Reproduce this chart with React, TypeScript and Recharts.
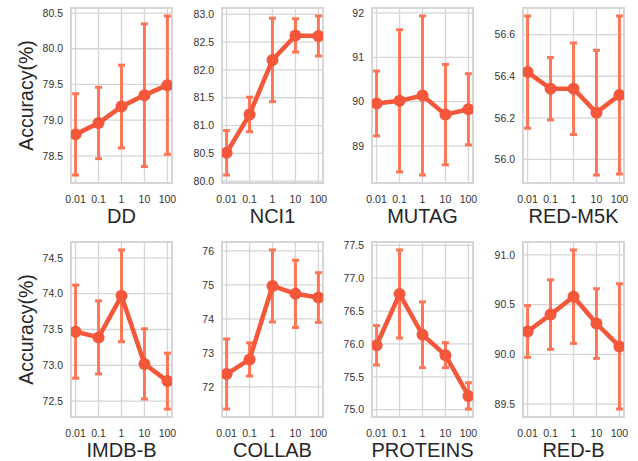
import React from 'react';
import { LineChart, Line, XAxis, YAxis, CartesianGrid, ErrorBar, ReferenceArea } from 'recharts';

const LAMBDAS = ['0.01', '0.1', '1', '10', '100'];

const DD_MEAN = [78.8, 78.96, 79.19, 79.35, 79.49];
const DD_ERR = [0.57, 0.5, 0.58, 1.0, 0.97];
const DD_TICKS = [78.5, 79.0, 79.5, 80.0, 80.5];

const NCI1_MEAN = [80.51, 81.2, 82.18, 82.62, 82.61];
const NCI1_ERR = [0.4, 0.31, 0.75, 0.3, 0.36];
const NCI1_TICKS = [80.0, 80.5, 81.0, 81.5, 82.0, 82.5, 83.0];

const MUTAG_MEAN = [89.96, 90.02, 90.14, 89.71, 89.83];
const MUTAG_ERR = [0.73, 1.6, 1.79, 1.13, 0.8];
const MUTAG_TICKS = [89, 90, 91, 92];

const REDM5K_MEAN = [56.42, 56.34, 56.34, 56.225, 56.31];
const REDM5K_ERR = [0.27, 0.15, 0.22, 0.3, 0.38];
const REDM5K_TICKS = [56.0, 56.2, 56.4, 56.6];

const IMDBB_MEAN = [73.47, 73.39, 73.97, 73.02, 72.78];
const IMDBB_ERR = [0.65, 0.51, 0.64, 0.49, 0.39];
const IMDBB_TICKS = [72.5, 73.0, 73.5, 74.0, 74.5];

const COLLAB_MEAN = [72.38, 72.81, 74.97, 74.74, 74.63];
const COLLAB_ERR = [1.03, 0.49, 1.06, 0.99, 0.73];
const COLLAB_TICKS = [72, 73, 74, 75, 76];

const PROTEINS_MEAN = [75.98, 76.76, 76.14, 75.83, 75.21];
const PROTEINS_ERR = [0.3, 0.67, 0.5, 0.19, 0.2];
const PROTEINS_TICKS = [75.0, 75.5, 76.0, 76.5, 77.0, 77.5];

const REDB_MEAN = [90.23, 90.4, 90.58, 90.31, 90.08];
const REDB_ERR = [0.26, 0.35, 0.47, 0.35, 0.63];
const REDB_TICKS = [89.5, 90.0, 90.5, 91.0];

const PANELS = [
  { name: 'DD', mean: DD_MEAN, err: DD_ERR, ticks: DD_TICKS, dec: 1 },
  { name: 'NCI1', mean: NCI1_MEAN, err: NCI1_ERR, ticks: NCI1_TICKS, dec: 1 },
  { name: 'MUTAG', mean: MUTAG_MEAN, err: MUTAG_ERR, ticks: MUTAG_TICKS, dec: 0 },
  { name: 'RED-M5K', mean: REDM5K_MEAN, err: REDM5K_ERR, ticks: REDM5K_TICKS, dec: 1 },
  { name: 'IMDB-B', mean: IMDBB_MEAN, err: IMDBB_ERR, ticks: IMDBB_TICKS, dec: 1 },
  { name: 'COLLAB', mean: COLLAB_MEAN, err: COLLAB_ERR, ticks: COLLAB_TICKS, dec: 0 },
  { name: 'PROTEINS', mean: PROTEINS_MEAN, err: PROTEINS_ERR, ticks: PROTEINS_TICKS, dec: 1 },
  { name: 'RED-B', mean: REDB_MEAN, err: REDB_ERR, ticks: REDB_TICKS, dec: 1 },
];

const FONT = '"Liberation Sans", Arial, sans-serif';
const PLOT_LEFTS = [71, 222, 372, 523];
const PLOT_TOPS = [8, 242];
const PLOT_W = 101;
const PLOT_H = 175;
const M_TOP = 5;
const M_RIGHT = 5;
const XH = 45;
const LINE_COLOR = '#f4573a';
const ERR_COLOR = '#ff7656';
const GRID = '#d6d6d6';

function XLabel(props: any) {
  const vb = props.viewBox || {};
  return (
    <text x={vb.x + vb.width / 2} y={vb.y + 40} textAnchor="middle" fontSize={20} fontFamily={FONT} fill="#262626">
      {props.text}
    </text>
  );
}

function YLabel(props: any) {
  const vb = props.viewBox || {};
  const cx = 32.5;
  const cy = vb.y + vb.height / 2;
  return (
    <text x={cx} y={cy} transform={`rotate(-90, ${cx}, ${cy})`} textAnchor="middle" fontSize={19.5} fontFamily={FONT} fill="#262626">
      Accuracy(%)
    </text>
  );
}

function Panel({ p, col, row }: { p: any; col: number; row: number }) {
  const plotLeft = PLOT_LEFTS[col];
  const plotTop = PLOT_TOPS[row];
  const yW = col === 0 ? plotLeft : 50;
  const data = LAMBDAS.map((l, i) => ({ x: i, mean: p.mean[i], err: p.err[i] }));
  const lo = Math.min(...data.map((d) => d.mean - d.err));
  const hi = Math.max(...data.map((d) => d.mean + d.err));
  const pad = (hi - lo) * 0.05;
  const dom: [number, number] = [lo - pad, hi + pad];
  return (
    <div style={{ position: 'absolute', left: plotLeft - yW, top: plotTop - M_TOP }}>
      <LineChart
        width={yW + PLOT_W + M_RIGHT}
        height={M_TOP + PLOT_H + XH}
        data={data}
        margin={{ top: M_TOP, right: M_RIGHT, bottom: 0, left: 0 }}
      >
        <CartesianGrid stroke={GRID} strokeWidth={1.3} />
        <ReferenceArea x1={-0.2} x2={4.2} y1={dom[0]} y2={dom[1]} fill="none" stroke={GRID} strokeWidth={2} ifOverflow="visible" />
        <XAxis
          dataKey="x"
          type="number"
          domain={[-0.2, 4.2]}
          allowDataOverflow
          ticks={[0, 1, 2, 3, 4]}
          interval={0}
          tickFormatter={(v: number) => LAMBDAS[v]}
          tickLine={false}
          axisLine={false}
          tickSize={0}
          tickMargin={13}
          height={XH}
          tick={{ fontSize: 10.5, fill: '#333', fontFamily: FONT }}
          label={<XLabel text={p.name} />}
        />
        <YAxis
          type="number"
          domain={dom}
          allowDataOverflow
          ticks={p.ticks}
          interval={0}
          tickFormatter={(v: number) => v.toFixed(p.dec)}
          tickLine={false}
          axisLine={false}
          tickSize={0}
          tickMargin={8}
          width={yW}
          tick={{ fontSize: 10.5, fill: '#333', fontFamily: FONT }}
          label={col === 0 ? <YLabel /> : undefined}
        />
        <Line
          dataKey="mean"
          stroke={LINE_COLOR}
          strokeWidth={4.5}
          dot={{ r: 6, fill: LINE_COLOR, stroke: LINE_COLOR, strokeWidth: 0 }}
          activeDot={false}
          isAnimationActive={false}
        >
          <ErrorBar dataKey="err" direction="y" width={3.5} strokeWidth={3} stroke={ERR_COLOR} />
        </Line>
      </LineChart>
    </div>
  );
}

export default function App() {
  return (
    <div style={{ position: 'absolute', left: 0, top: 0, width: 638, height: 461, background: '#fff' }}>
      {PANELS.map((p, i) => (
        <Panel key={p.name} p={p} col={i % 4} row={Math.floor(i / 4)} />
      ))}
    </div>
  );
}
